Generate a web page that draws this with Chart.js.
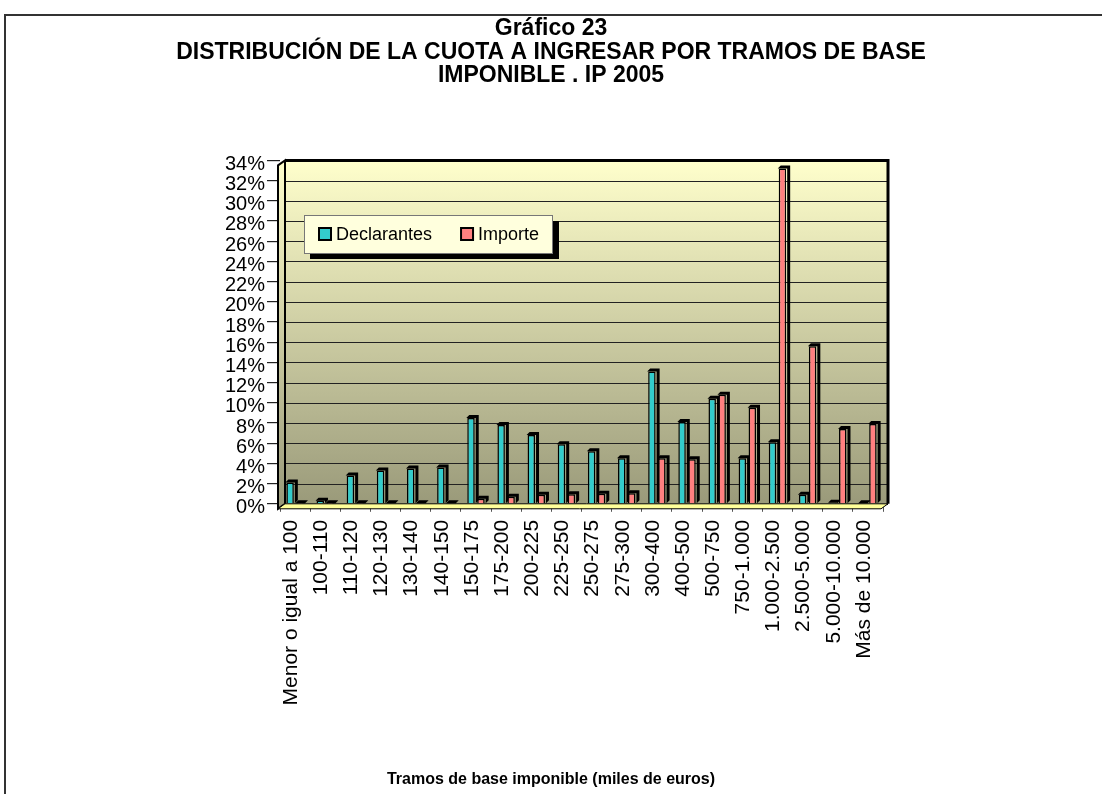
<!DOCTYPE html>
<html>
<head>
<meta charset="utf-8">
<script src="https://cdn.jsdelivr.net/npm/chart.js@4.4.0/dist/chart.umd.min.js"></script>
<style>
  body{margin:0;background:#fff;}
  #c{display:block;}
</style>
</head>
<body>
<canvas id="c" width="1102" height="794"></canvas>
<script>
const titleLines = ['Gráfico 23', 'DISTRIBUCIÓN DE LA CUOTA A INGRESAR POR TRAMOS DE BASE', 'IMPONIBLE . IP 2005'];
const xTitle = 'Tramos de base imponible (miles de euros)';
const categories = ['Menor o igual a 100','100-110','110-120','120-130','130-140','140-150','150-175','175-200','200-225','225-250','250-275','275-300','300-400','400-500','500-750','750-1.000','1.000-2.500','2.500-5.000','5.000-10.000','Más de 10.000'];
const declarantes = [2.1, 0.3, 2.8, 3.3, 3.5, 3.6, 8.5, 7.8, 6.8, 5.9, 5.2, 4.5, 13.1, 8.1, 10.4, 4.5, 6.1, 0.9, 0.1, 0.05];
const importe = [0.02, 0.01, 0.02, 0.03, 0.03, 0.04, 0.5, 0.7, 0.9, 0.95, 1.0, 1.05, 4.5, 4.4, 10.8, 9.5, 33.2, 15.6, 7.4, 7.9];
const yMax = 34, yStep = 2;

Chart.defaults.font.family = "'Liberation Sans', Arial, sans-serif";
Chart.defaults.color = '#000';
const D = 3;      // bar depth
const WALL = 5;   // back wall sits a little right of the bars' plane

function wallGrad(ctx, a){
  const g = ctx.createLinearGradient(0,a.top,0,a.bottom);
  g.addColorStop(0,'#FFFFCC'); g.addColorStop(1,'#9A9A7A');
  return g;
}

const backdrop = {
  id:'backdrop',
  beforeDraw(chart){
    const {ctx} = chart;
    ctx.save();
    ctx.fillStyle = '#fff'; ctx.fillRect(0,0,chart.width,chart.height);
    ctx.strokeStyle = '#333'; ctx.lineWidth = 2;
    ctx.strokeRect(5,15,1200,900);
    ctx.restore();
  },
  beforeDatasetsDraw(chart){
    const {ctx, chartArea:a, scales} = chart;
    const L = a.left + WALL, R = a.right + WALL;
    ctx.save();
    // back wall + gridlines
    ctx.fillStyle = wallGrad(ctx,a); ctx.fillRect(L,a.top,R-L,a.bottom-a.top);
    ctx.strokeStyle = '#222'; ctx.lineWidth = 1.2;
    scales.y.ticks.forEach(t=>{
      const y = Math.round(scales.y.getPixelForValue(t.value)) + 0.5;
      ctx.beginPath(); ctx.moveTo(L,y); ctx.lineTo(R,y); ctx.stroke();
    });
    // left wall
    ctx.beginPath();
    ctx.moveTo(L-7,a.top+5); ctx.lineTo(L,a.top); ctx.lineTo(L,a.bottom); ctx.lineTo(L-7,a.bottom+5); ctx.closePath();
    ctx.fillStyle = wallGrad(ctx,a); ctx.fill();
    ctx.strokeStyle = '#000'; ctx.lineWidth = 2; ctx.stroke();
    // floor
    ctx.beginPath();
    ctx.moveTo(L-7,a.bottom+5); ctx.lineTo(L,a.bottom); ctx.lineTo(R,a.bottom); ctx.lineTo(R-7,a.bottom+5); ctx.closePath();
    ctx.fillStyle = '#FFFF99'; ctx.fill();
    ctx.lineWidth = 1; ctx.stroke();
    // back wall frame
    ctx.lineWidth = 3;
    ctx.beginPath();
    ctx.moveTo(L,a.top); ctx.lineTo(R,a.top); ctx.lineTo(R,a.bottom);
    ctx.stroke();
    // bar depth (top + side) for every bar, before the front faces
    ctx.fillStyle = '#000';
    chart.getSortedVisibleDatasetMetas().forEach(meta=>{
      meta.data.forEach(el=>{
        const p = el.getProps(['x','y','base','width'], true);
        const l = p.x - p.width/2, r = p.x + p.width/2, t = Math.min(p.y,p.base), b = Math.max(p.y,p.base);
        ctx.beginPath();
        ctx.moveTo(l-1,t); ctx.lineTo(l-1+D,t-D); ctx.lineTo(r+1+D,t-D); ctx.lineTo(r+1+D,b-D); ctx.lineTo(r+1,b); ctx.lineTo(r+1,t); ctx.closePath();
        ctx.fill();
      });
    });
    ctx.restore();
  },
  afterDraw(chart){
    // legend box inside the plot
    const ctx = chart.ctx;
    const ds = chart.data.datasets;
    ctx.save();
    ctx.fillStyle = '#000'; ctx.fillRect(310,221,249,38);
    ctx.fillStyle = '#FFFFDD'; ctx.fillRect(304,215.5,249,38);
    ctx.strokeStyle = '#777'; ctx.lineWidth = 1; ctx.strokeRect(304.5,215.5,248,38);
    ctx.font = "18px 'Liberation Sans', Arial, sans-serif";
    ctx.textBaseline = 'middle';
    let x = 319;
    ds.forEach(d=>{
      ctx.fillStyle = d.backgroundColor; ctx.fillRect(x,228,12,12);
      ctx.strokeStyle = '#000'; ctx.lineWidth = 2; ctx.strokeRect(x,228,12,12);
      ctx.fillStyle = '#000'; ctx.fillText(d.label, x+17, 235);
      x += 17 + ctx.measureText(d.label).width + 29;
    });
    ctx.restore();
  }
};

new Chart(document.getElementById('c').getContext('2d'), {
  type:'bar',
  data:{
    labels: categories,
    datasets:[
      { label:'Declarantes', data: declarantes, backgroundColor:'#33CCCC', borderColor:'#000', borderWidth:1.5,
        categoryPercentage:0.66, barPercentage:0.75 },
      { label:'Importe', data: importe, backgroundColor:'#FF8080', borderColor:'#000', borderWidth:1.5,
        categoryPercentage:0.66, barPercentage:0.75 }
    ]
  },
  options:{
    responsive:false,
    animation:false,
    layout:{ padding:{ left:0, right:0, top:0, bottom:0 } },
    plugins:{
      legend:{ display:false },
      tooltip:{ enabled:false },
      title:{ display:true, text:titleLines, font:{ size:23, weight:'bold', lineHeight:1.02 }, padding:{ top:17, bottom:73 } },
      subtitle:{ display:true, position:'bottom', text:xTitle, font:{ size:16, weight:'bold' }, padding:{ top:0, bottom:5 } }
    },
    scales:{
      x:{
        grid:{ drawOnChartArea:false, tickLength:8, color:'#555', offset:true },
        border:{ display:false },
        ticks:{ autoSkip:false, maxRotation:90, minRotation:90, padding:8, labelOffset:-4, font:{ size:21 } },
        afterFit(s){ s.height = 266; }
      },
      y:{
        min:0, max:yMax,
        grid:{ drawOnChartArea:false, color:'#222', lineWidth:1.2, tickLength:13 },
        border:{ display:false },
        ticks:{ stepSize:yStep, autoSkip:false, padding:2, labelOffset:4, font:{ size:20 }, callback:v=>v+'%' },
        afterFit(s){ s.width = 280; }
      },
      y2:{
        position:'right', display:true,
        grid:{ display:false }, border:{ display:false },
        ticks:{ display:false },
        afterFit(s){ s.width = 219; }
      }
    }
  },
  plugins:[backdrop]
});
</script>
</body>
</html>
